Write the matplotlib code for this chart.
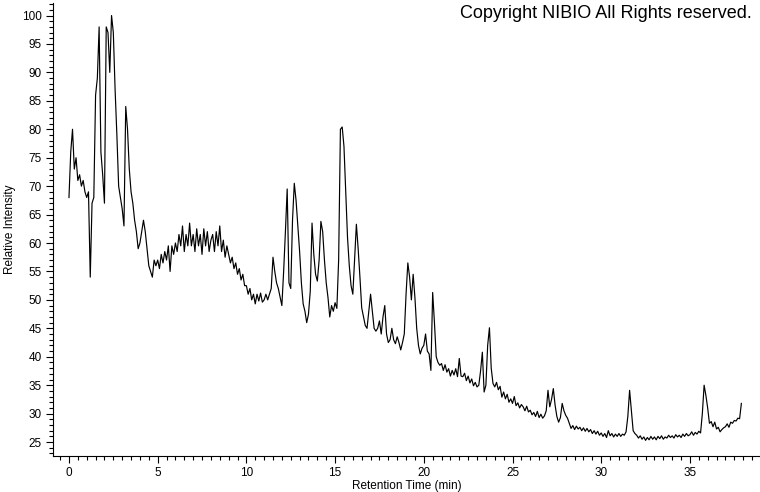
import matplotlib.pyplot as plt
import numpy as np
from matplotlib.ticker import MultipleLocator

# chromatogram, sampled every 0.1 min from 0.0 min (one row per minute)
time_start = 0.0
time_step = 0.1
intensity = [
    68, 76, 80, 73, 75, 71, 72, 70, 71, 69,
    68, 69, 54, 67, 68, 86, 89, 98, 76, 72,
    67, 98, 97, 90, 100, 97, 87, 79, 70, 68,
    66, 63, 84, 80, 73, 69, 67, 64, 62, 59,
    60, 62, 64, 62, 59, 56, 55, 54, 57, 56,
    57, 55.5, 58, 56.5, 58.5, 57, 59.5, 55, 59.5, 58,
    60, 58.5, 61.5, 59.5, 63, 58.5, 61.5, 59.5, 63.5, 59.5,
    61.5, 58.5, 62.5, 59.5, 61.5, 58, 62.5, 59.5, 62, 58.5,
    60.5, 61.5, 58.5, 62, 59.5, 63, 58.5, 60.5, 57.5, 59.5,
    58, 56.5, 57.5, 55.5, 56.5, 54.5, 55.5, 53.5, 54.5, 52.5,
    52.5, 51, 52, 50, 51, 49.3, 51, 49.8, 51.2, 49.6,
    50, 51, 50, 51, 52, 57.5, 55, 53, 52, 50.5,
    49, 55, 62, 69.5, 53, 52, 64, 70.5, 67.5, 63,
    58.5, 53, 49.3, 48, 46, 47.5, 51.5, 63.5, 58, 54.5,
    53.3, 57, 63.8, 62, 57, 53, 50.4, 47, 49, 48,
    49.5, 48.5, 57, 80, 80.4, 77, 69, 61, 56, 52.5,
    51, 57, 63.3, 59, 54, 48.6, 47, 45.5, 45, 48,
    51, 48, 45, 44.5, 45, 46.3, 44, 47, 49, 44,
    42.5, 43, 45, 43, 42.3, 43.5, 42.5, 41.2, 42.5, 44,
    51, 56.5, 54, 50, 54.5, 50.4, 45, 42, 40.5, 41.5,
    42, 44, 41, 40.5, 37.6, 51.3, 46, 40, 39, 38.5,
    38.8, 37.6, 38.6, 37.3, 37.9, 36.6, 37.6, 36.8, 37.9, 36.5,
    39.7, 36.6, 36.5, 37.1, 35.8, 36.6, 35.4, 36.1, 34.9, 35.5,
    34.7, 35, 37.5, 40.8, 33.8, 35, 42, 45.1, 38, 35.3,
    34.7, 35.5, 34.2, 34.8, 32.9, 33.8, 32.6, 33.4, 32, 32.6,
    31.8, 33, 31.4, 31.9, 31, 31.6, 31.2, 30.5, 31.3, 30.3,
    30.6, 29.8, 30.2, 29.5, 30.4, 29.3, 29.9, 29.2, 29.6, 30.5,
    34.1, 31.2, 32.5, 34.4, 31.5, 29.5, 28.5, 29.3, 31.8, 30.5,
    29.7, 29.2, 28.3, 27.4, 27.9, 27.2, 27.8, 27.3, 27.6, 27,
    27.5, 26.9, 27.4, 26.8, 27.2, 26.5, 27, 26.4, 26.9, 26.2,
    26.6, 26, 26.5, 25.8, 27, 26.1, 26.5, 25.9, 26.4, 26,
    26.5, 26, 26.4, 26.2, 26.8, 29.5, 34.1, 30.5, 27, 26.5,
    26.2, 25.7, 26.1, 25.5, 25.9, 25.3, 25.8, 25.4, 26, 25.5,
    25.9, 25.4, 26, 25.6, 26.1, 25.5, 25.9, 25.7, 26.2, 25.8,
    26.1, 25.7, 26.3, 25.9, 26.2, 25.8, 26.4, 26, 26.5, 26.1,
    26.3, 26.8, 26.2, 26.7, 26.4, 26.9, 26.6, 30, 35, 33.2,
    31, 28.3, 28.6, 27.7, 28.5, 27.3, 27.6, 26.8, 27.2, 27.5,
    27.7, 28.2, 27.6, 28.5, 28.3, 28.8, 28.7, 29.2, 29.1, 31.8,
]
retention_time = time_start + time_step * np.arange(len(intensity))

plt.rcParams['font.family'] = ['Liberation Sans', 'DejaVu Sans']

fig = plt.figure(figsize=(7.6, 4.92), dpi=100)
ax = fig.add_axes([53 / 760, 36 / 492, 707 / 760, 453 / 492])

ax.plot(retention_time, intensity, color='black', linewidth=0.85)

ax.set_xlim(-0.9, 38.95)
ax.set_ylim(22.55, 102.2)
ax.xaxis.set_major_locator(MultipleLocator(5))
ax.xaxis.set_minor_locator(MultipleLocator(0.5))
ax.yaxis.set_major_locator(MultipleLocator(5))
ax.yaxis.set_minor_locator(MultipleLocator(1))

for side in ['top', 'right']:
    ax.spines[side].set_visible(False)
for side in ['left', 'bottom']:
    ax.spines[side].set_linewidth(0.8)

ax.tick_params(which='major', direction='out', length=5, width=0.8, labelsize=8.5, pad=3)
ax.tick_params(which='minor', direction='out', length=2.8, width=0.8)

ax.set_xlabel("Retention Time (min)", fontsize=8.5, labelpad=1)
ax.set_ylabel("Relative Intensity", fontsize=8.5, labelpad=4)

fig.text(752 / 760, 1 - 14 / 492, "Copyright NIBIO All Rights reserved.",
         ha='right', va='center', fontsize=13)

fig.savefig("out.png", dpi=100)
